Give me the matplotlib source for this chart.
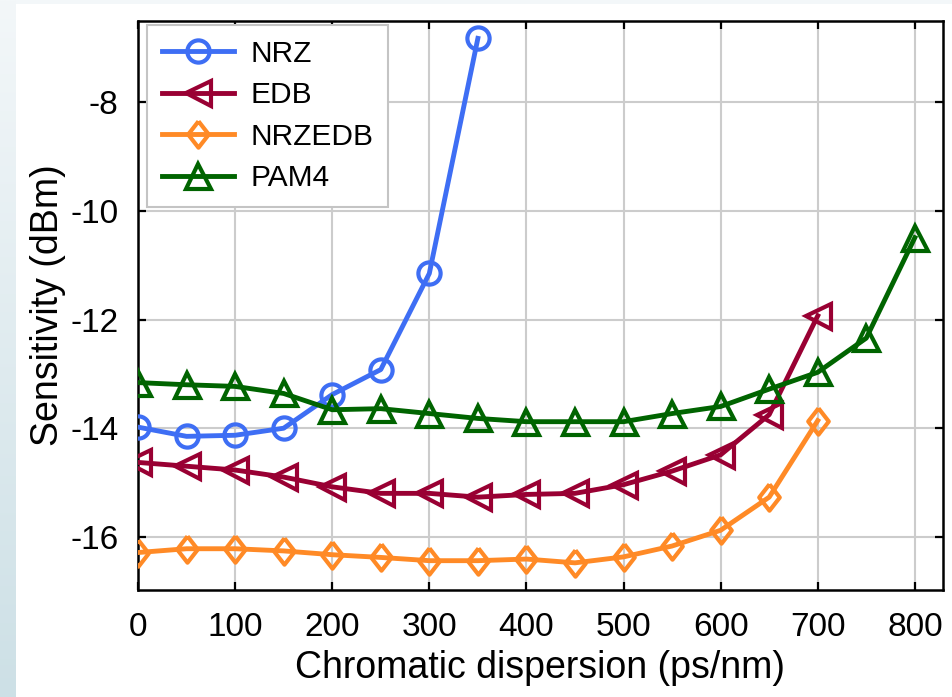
import numpy as np
import matplotlib
matplotlib.use("Agg")
import matplotlib.pyplot as plt
from matplotlib.colors import LinearSegmentedColormap

plt.rcParams['font.family'] = ['Liberation Sans', 'DejaVu Sans']
plt.rcParams['axes.unicode_minus'] = False

# ---- data ----
nrz_x = [0, 50, 100, 150, 200, 250, 300, 350]
nrz_y = [-13.98, -14.15, -14.13, -14.0, -13.38, -12.92, -11.15, -6.82]

edb_x = [0, 50, 100, 150, 200, 250, 300, 350, 400, 450, 500, 550, 600, 650, 700]
edb_y = [-14.63, -14.70, -14.77, -14.90, -15.08, -15.20, -15.20, -15.27, -15.22,
         -15.20, -15.04, -14.79, -14.49, -13.75, -11.93]

nrzedb_x = [0, 50, 100, 150, 200, 250, 300, 350, 400, 450, 500, 550, 600, 650, 700]
nrzedb_y = [-16.29, -16.22, -16.22, -16.26, -16.33, -16.38, -16.44, -16.44, -16.41,
            -16.48, -16.37, -16.17, -15.88, -15.27, -13.86]

pam4_x = [0, 50, 100, 150, 200, 250, 300, 350, 400, 450, 500, 550, 600, 650, 700, 750, 800]
pam4_y = [-13.16, -13.20, -13.23, -13.36, -13.66, -13.64, -13.73, -13.82, -13.88,
          -13.88, -13.88, -13.73, -13.60, -13.28, -12.97, -12.34, -10.49]

labels = ["NRZ", "EDB", "NRZEDB", "PAM4"]
colors = ["#3e6ef4", "#990033", "#ff8a26", "#006400"]

xticks = [0, 100, 200, 300, 400, 500, 600, 700, 800]
yticks = [-16, -14, -12, -10, -8]

# ---- figure ----
W, H = 953, 697
fig = plt.figure(figsize=(W / 100, H / 100), dpi=100, facecolor="white")

# background decoration: left gradient strip and top strip
bg = fig.add_axes([0, 0, 16 / W, 1])
cmap = LinearSegmentedColormap.from_list("g", ["#f3f7f9", "#cde0e6"])
bg.imshow(np.linspace(0, 1, 256).reshape(-1, 1), aspect="auto", cmap=cmap,
          extent=[0, 1, 1, 0])
bg.set_axis_off()
top = fig.add_axes([16 / W, 1 - 4 / H, 1 - 16 / W, 4 / H])
top.set_axis_off()
top.add_patch(plt.Rectangle((0, 0), 1, 1, color="#f3f7f9", transform=top.transAxes))

L, R, T, B = 138, 943, 21, 590
ax = fig.add_axes([L / W, 1 - B / H, (R - L) / W, (B - T) / H])

diamond = [(0, 1), (0.78, 0), (0, -1), (-0.78, 0), (0, 1)]
markers = ["o", "<", diamond, "^"]
msizes = [16, 18, 19, 18]
series = [(nrz_x, nrz_y), (edb_x, edb_y), (nrzedb_x, nrzedb_y), (pam4_x, pam4_y)]

for (xs, ys), lab, c, m, ms in zip(series, labels, colors, markers, msizes):
    ax.plot(xs, ys, color=c, lw=3.5, marker=m, ms=ms, mfc="none", mec=c, mew=3,
            label=lab, zorder=3)

ax.set_xlim(0, 829)
ax.set_ylim(-16.98, -6.5)
ax.set_xticks(xticks)
ax.set_yticks(yticks)
ax.grid(True, color="#cccccc", lw=1.5, zorder=0)
ax.set_axisbelow(True)

for s in ax.spines.values():
    s.set_linewidth(1.8)
ax.tick_params(direction="in", length=6, width=1.6, top=True, right=True,
               labelsize=24)
ax.tick_params(axis="x", pad=16)
ax.tick_params(axis="y", pad=14)

ax.set_xlabel("Chromatic dispersion (ps/nm)", fontsize=27, labelpad=5)
ax.set_ylabel("Sensitivity (dBm)", fontsize=27, labelpad=3)

leg = ax.legend(loc="upper left", bbox_to_anchor=(9 / (R - L), 1 - 4 / (B - T)),
                borderaxespad=0, fontsize=21.5, handlelength=2.4,
                handletextpad=0.55, labelspacing=0.45, borderpad=0.5,
                fancybox=False, framealpha=1, edgecolor="#c4c4c4")
leg.get_frame().set_linewidth(1.5)

fig.savefig("out.png", dpi=100, facecolor="white")
